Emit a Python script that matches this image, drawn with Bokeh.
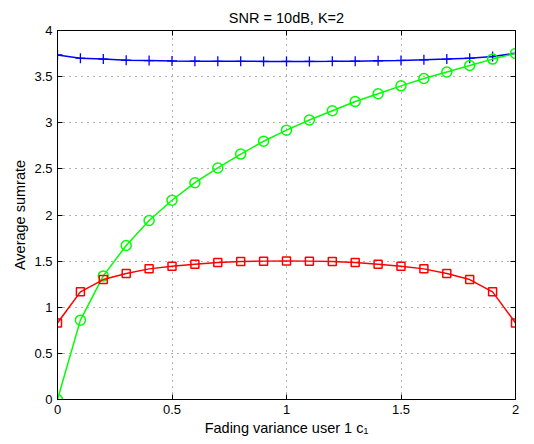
from bokeh.plotting import figure
from bokeh.models import LinearAxis, FixedTicker, Range1d
from bokeh.embed import file_html
from bokeh.resources import INLINE

# ---- data ----
c1 = [0.0, 0.1, 0.2, 0.3, 0.4, 0.5, 0.6, 0.7, 0.8, 0.9, 1.0,
      1.1, 1.2, 1.3, 1.4, 1.5, 1.6, 1.7, 1.8, 1.9, 2.0]
rate_blue = [3.735, 3.70, 3.69, 3.678, 3.674, 3.670, 3.668, 3.666, 3.666, 3.665, 3.665,
             3.665, 3.666, 3.668, 3.672, 3.676, 3.682, 3.690, 3.700, 3.718, 3.752]
rate_green = [0.0, 0.86, 1.34, 1.67, 1.94, 2.16, 2.35, 2.51, 2.66, 2.80, 2.92,
              3.03, 3.13, 3.23, 3.315, 3.40, 3.48, 3.55, 3.62, 3.69, 3.752]
rate_red = [0.83, 1.167, 1.30, 1.365, 1.416, 1.445, 1.467, 1.485, 1.495, 1.50, 1.502,
            1.50, 1.495, 1.485, 1.467, 1.445, 1.416, 1.365, 1.30, 1.167, 0.83]

x_ticks = [0, 0.5, 1, 1.5, 2]
x_tick_labels = ["0", "0.5", "1", "1.5", "2"]
y_ticks = [0, 0.5, 1, 1.5, 2, 2.5, 3, 3.5, 4]
y_tick_labels = ["0", "0.5", "1", "1.5", "2", "2.5", "3", "3.5", "4"]

title_text = "SNR = 10dB, K=2"
x_label = "Fading variance user 1 c\u2081"
y_label = "Average sumrate"

FONT = "Liberation Sans"

p = figure(output_backend="svg", toolbar_location=None,
           frame_width=458, frame_height=369,
           min_border_left=57, min_border_right=11,
           min_border_top=30, min_border_bottom=37,
           x_range=Range1d(0, 2), y_range=Range1d(0, 4),
           x_axis_location=None, y_axis_location=None,
           background_fill_color="white", border_fill_color="white")

p.title.text = title_text
p.title.align = "center"
p.title.text_font = FONT
p.title.text_font_size = "14.5px"
p.title.text_font_style = "normal"
p.title.text_color = "black"
p.title.standoff = 9

p.outline_line_color = "black"
p.outline_line_width = 1


def make_axis(ticks, labels, show_labels, label=None):
    ax = LinearAxis(ticker=FixedTicker(ticks=ticks))
    ax.major_label_overrides = {t: (l if show_labels else "") for t, l in zip(ticks, labels)}
    ax.major_tick_in = 5
    ax.major_tick_out = 0
    ax.minor_tick_line_color = None
    ax.axis_line_color = "black"
    ax.major_tick_line_color = "black"
    ax.major_label_text_font = FONT
    ax.major_label_text_font_size = "13px" if show_labels else "0px"
    ax.major_label_text_color = "black"
    ax.major_label_standoff = 5 if show_labels else 0
    if label:
        ax.axis_label = label
        ax.axis_label_text_font = FONT
        ax.axis_label_text_font_size = "14.5px"
        ax.axis_label_text_font_style = "normal"
        ax.axis_label_text_color = "black"
        ax.axis_label_standoff = 3
    return ax


p.add_layout(make_axis(x_ticks, x_tick_labels, True, x_label), "below")
p.add_layout(make_axis(y_ticks, y_tick_labels, True, y_label), "left")
p.add_layout(make_axis(x_ticks, x_tick_labels, False), "above")
p.add_layout(make_axis(y_ticks, y_tick_labels, False), "right")

p.xgrid.ticker = FixedTicker(ticks=x_ticks)
p.ygrid.ticker = FixedTicker(ticks=y_ticks)
for g in (p.xgrid, p.ygrid):
    g.grid_line_color = "#555555"
    g.grid_line_alpha = 0.9
    g.grid_line_dash = "1 5"
    g.grid_line_width = 1

# blue '+'
p.line(c1, rate_blue, line_color="#0000ff", line_width=1.5)
p.scatter(c1, rate_blue, marker="cross", size=10, line_color="#0000ff",
          line_width=1.3, fill_color=None)
# green circles
p.line(c1, rate_green, line_color="#00ff00", line_width=1.5)
p.scatter(c1, rate_green, marker="circle", size=10, line_color="#00ff00",
          line_width=1.5, fill_color=None)
# red squares
p.line(c1, rate_red, line_color="#ff0000", line_width=1.5)
p.scatter(c1, rate_red, marker="square", size=8, line_color="#ff0000",
          line_width=1.5, fill_color=None)

open("out.html", "w").write(file_html(p, INLINE))
